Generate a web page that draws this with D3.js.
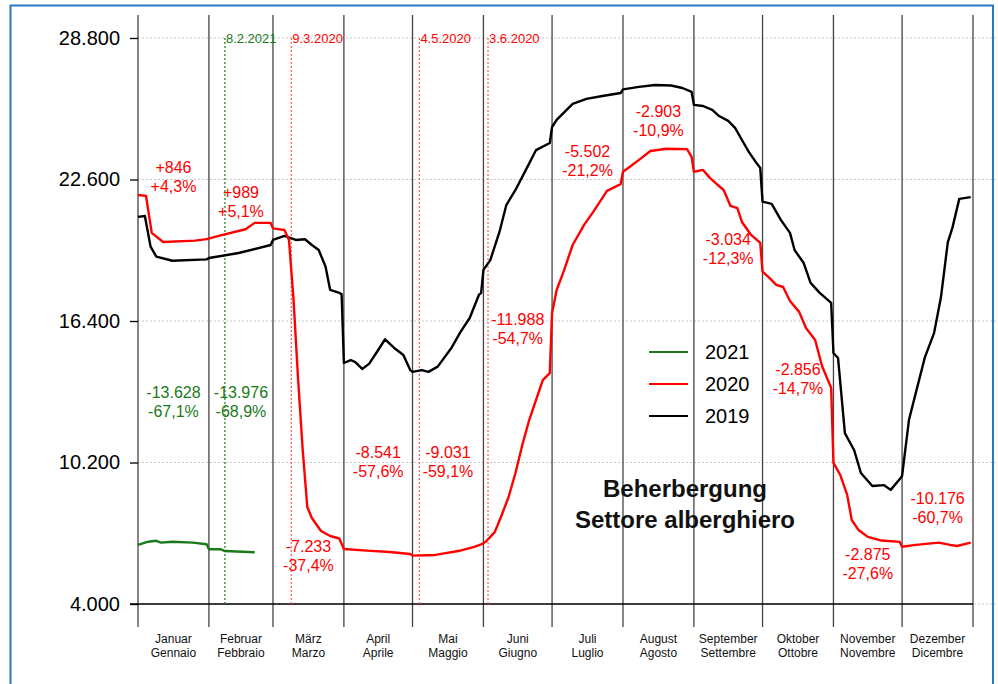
<!DOCTYPE html>
<html><head><meta charset="utf-8">
<script src="https://cdn.jsdelivr.net/npm/d3@7"></script>
<style>
body{margin:0;background:#fff}
svg{display:block}
text{font-family:Arial,"Liberation Sans",sans-serif}
</style>
</head><body>
<svg id="chart" width="998" height="684"></svg>
<script>
// ---------- data ----------
const monthsDE = ["Januar","Februar","März","April","Mai","Juni","Juli","August","September","Oktober","November","Dezember"];
const monthsIT = ["Gennaio","Febbraio","Marzo","Aprile","Maggio","Giugno","Luglio","Agosto","Settembre","Ottobre","Novembre","Dicembre"];
const monthLengths = [31,28,31,30,31,30,31,31,30,31,30,31];
const yTicks = [4000,10200,16400,22600,28800];

// [day of year (0-based), value]
const s2019 = [[0,20960],[3,21000],[5.5,19660],[8,19220],[15,19040],[30,19100],
 [31,19160],[44,19380],[58,19730],
 [59,19950],[64,20130],[69,19950],[73,19980],[76,19730],[79,19510],[82,18780],[84,17760],[88,17630],[89,17580],
 [90,14560],[93,14690],[95,14600],[98,14300],[101,14520],[105,15130],[108,15600],[112,15220],[116,14910],[119,14250],
 [120,14170],[124,14250],[127,14170],[131,14400],[137,15220],[141,15920],[145,16530],[149,17540],[150,17630],
 [151,18640],[154,19070],[158,20300],[161,21480],[165,22140],[170,23110],[174,23890],[180,24200],
 [181,24900],[183,25210],[190,25910],[196,26130],[203,26260],[211,26390],
 [212,26550],[219,26660],[226,26740],[233,26720],[238,26610],[242,26440],
 [243,25870],[247,25820],[251,25650],[254,25380],[258,25170],[261,24860],[264,24330],[267,23810],[270,23370],[272,23110],
 [273,21630],[277,21530],[281,20830],[285,20260],[287,19510],[291,18940],[294,18070],[298,17630],[302,17280],[303,17190],
 [304,15000],[306,14780],[309,11490],[313,10750],[316,9740],[321,9170],[326,9210],[329,9000],[333,9480],
 [334,9610],[337,12060],[340,13250],[344,14820],[348,15880],[351,17450],[354,19860],[356,20480],[359,21750],[364,21830]];

const s2020 = [[0,21920],[3.5,21880],[6,20260],[11,19860],[25,19920],[30,19990],
 [37,20170],[47,20420],[51,20700],[58,20700],
 [59,20460],[64,20390],[66,19950],[68,17320],[70,13820],[72,10750],[74,8250],[76,7770],[80,7200],[84,6980],[88,6870],
 [90,6410],[100,6340],[110,6280],[119,6190],
 [120,6120],[130,6150],[140,6320],[147,6500],[150,6610],
 [152,6730],[156,7160],[159,7900],[162,8690],[165,9740],[168,10970],[171,12060],[174,12940],[177,13820],[180,14120],
 [181,16750],[183,17760],[186,18550],[190,19730],[195,20610],[199,21180],[205,22100],[211,22400],
 [212,22940],[215,23160],[219,23460],[224,23850],[231,23950],[240,23930],[242,23590],
 [243,22940],[247,23020],[250,22670],[253,22400],[256,22140],[259,21440],[262,21350],[264,20740],[268,20170],[272,19820],
 [273,18560],[276,18290],[279,17980],[282,17890],[285,17280],[289,16800],[292,16090],[296,15570],[299,14430],[303,13470],
 [304,10180],[307,9650],[310,8780],[312,7680],[315,7240],[319,6940],[325,6780],[333,6720],
 [334,6510],[340,6590],[350,6690],[355,6590],[358,6540],[364,6690]];

const s2021 = [[0,6590],[4.5,6730],[8,6770],[10,6690],[15,6730],[24,6690],[30,6620],
 [31,6400],[36,6400],[38,6320],[51,6270]];

// monthly change labels
const delta2020 = [846,989,-7233,-8541,-9031,-11988,-5502,-2903,-3034,-2856,-2875,-10176];
const pct2020 = [4.3,5.1,-37.4,-57.6,-59.1,-54.7,-21.2,-10.9,-12.3,-14.7,-27.6,-60.7];
const label2020Level = [22890,21790,6280,10400,10400,16230,23590,25340,19730,14030,5930,8380];
const delta2021 = [-13628,-13976];
const pct2021 = [-67.1,-68.9];
const label2021Level = [13030,13030];

// marker dates
const markerDates = ["8.2.2021","9.3.2020","4.5.2020","3.6.2020"];
const markerSeries = ["2021","2020","2020","2020"];

const legendYears = ["2021","2020","2019"];
const titleLines = ["Beherbergung","Settore alberghiero"];

// ---------- styles ----------
const colors = {"2019":"#000000","2020":"#ff0000","2021":"#1a7a1a"};
const markerColors = {"2020":"#ff5a5a","2021":"#1a7a1a"};

// ---------- setup ----------
const svg = d3.select("#chart");
const plot = {left:138, right:973, top:38, bottom:604};

const loc = d3.formatLocale({decimal:",", thousands:".", grouping:[3], currency:["","€"], minus:"-"});
const fmtInt = loc.format(",d");
const fmtPct = loc.format(".1f");
const signed = v => (v > 0 ? "+" : "") + fmtInt(v);
const signedPct = v => (v > 0 ? "+" : "") + fmtPct(v) + "%";

const monthStarts = [0];
monthLengths.forEach(l => monthStarts.push(monthStarts[monthStarts.length-1] + l));

const x = d3.scaleLinear().domain([0,365]).range([plot.left, plot.right]);
const y = d3.scaleLinear().domain([4000,28800]).range([plot.bottom, plot.top]);

function dayIndex(str){
  const [d,m] = str.split(".").map(Number);
  return monthStarts[m-1] + d - 1;
}

// frame
svg.append("rect").attr("x",10.5).attr("y",5.5).attr("width",982.5).attr("height",690)
  .attr("fill","#fff").attr("stroke","#2a78c2").attr("stroke-width",2);

// gridlines
svg.append("g").selectAll("line").data(yTicks).join("line")
  .attr("x1",plot.left).attr("x2",998)
  .attr("y1",d=>y(d)).attr("y2",d=>y(d))
  .attr("stroke","#c8c8c8").attr("stroke-width",1).attr("stroke-dasharray","2,2");

// month separators
svg.append("g").selectAll("line").data(monthStarts).join("line")
  .attr("x1",d=>x(d)).attr("x2",d=>x(d))
  .attr("y1",15).attr("y2",627)
  .attr("stroke","#444").attr("stroke-width",1.3);

// y axis
const yAxis = d3.axisLeft(y).tickValues(yTicks).tickFormat(fmtInt).tickSize(8).tickPadding(10);
const gy = svg.append("g").attr("transform",`translate(${plot.left},0)`).call(yAxis);
gy.select(".domain").remove();
gy.selectAll(".tick line").attr("stroke","#000").attr("stroke-width",1.3);
gy.selectAll(".tick text").attr("font-size",20).attr("fill","#000")
  .attr("font-family","Arial,'Liberation Sans',sans-serif");

// x axis baseline
svg.append("line").attr("x1",130).attr("x2",plot.right)
  .attr("y1",y(4000)).attr("y2",y(4000)).attr("stroke","#000").attr("stroke-width",1.3);

// month labels
const ml = svg.append("g");
monthsDE.forEach((m,i) => {
  const cx = x((monthStarts[i]+monthStarts[i+1])/2);
  ml.append("text").attr("x",cx).attr("y",643).attr("text-anchor","middle")
    .attr("font-size",12).attr("fill","#111").text(m);
  ml.append("text").attr("x",cx).attr("y",657).attr("text-anchor","middle")
    .attr("font-size",12).attr("fill","#111").text(monthsIT[i]);
});

// marker lines
markerDates.forEach((d,i) => {
  const xd = x(dayIndex(d));
  const c = markerColors[markerSeries[i]];
  svg.append("line").attr("x1",xd).attr("x2",xd).attr("y1",y(28800)).attr("y2",y(4000))
    .attr("stroke",c).attr("stroke-width",1.2).attr("stroke-dasharray","2,2");
  svg.append("text").attr("x",xd+1).attr("y",43).attr("font-size",13)
    .attr("fill", markerSeries[i]==="2021" ? colors["2021"] : colors["2020"]).text(d);
});

// series lines
const line = d3.line().x(d=>x(d[0])).y(d=>y(d[1]));
[["2019",s2019],["2020",s2020],["2021",s2021]].forEach(([k,data]) => {
  svg.append("path").datum(data).attr("d",line).attr("fill","none")
    .attr("stroke",colors[k]).attr("stroke-width",2.4).attr("stroke-linejoin","round");
});

// change labels
function addLabels(deltas, pcts, levels, color){
  deltas.forEach((dv,i) => {
    const cx = x((monthStarts[i]+monthStarts[i+1])/2);
    const yy = y(levels[i]);
    svg.append("text").attr("x",cx).attr("y",yy).attr("text-anchor","middle")
      .attr("font-size",16).attr("fill",color).text(signed(dv));
    svg.append("text").attr("x",cx).attr("y",yy+19).attr("text-anchor","middle")
      .attr("font-size",16).attr("fill",color).text(signedPct(pcts[i]));
  });
}
addLabels(delta2020,pct2020,label2020Level,colors["2020"]);
addLabels(delta2021,pct2021,label2021Level,colors["2021"]);

// legend
const lg = svg.append("g");
legendYears.forEach((k,i) => {
  const ly = 352 + i*32;
  lg.append("line").attr("x1",649).attr("x2",688).attr("y1",ly).attr("y2",ly)
    .attr("stroke",colors[k]).attr("stroke-width",2);
  lg.append("text").attr("x",705).attr("y",ly+7).attr("font-size",20).attr("fill","#000").text(k);
});

// title
titleLines.forEach((t,i) => {
  svg.append("text").attr("x",685).attr("y",497+i*31).attr("text-anchor","middle")
    .attr("font-family","Lato,sans-serif").attr("font-weight","bold")
    .attr("font-size",24).attr("fill","#111").text(t);
});
</script>
</body></html>
